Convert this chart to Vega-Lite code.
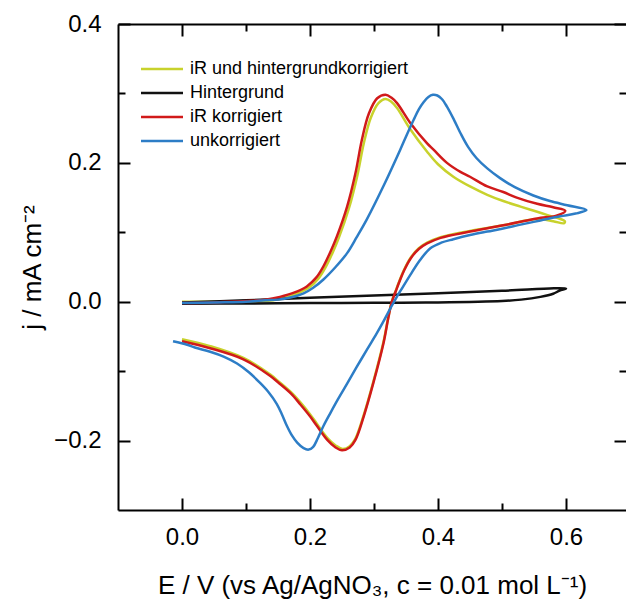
{
  "$schema": "https://vega.github.io/schema/vega-lite/v6.json",
  "autosize": "none",
  "width": 508,
  "height": 486,
  "padding": {"left": 118, "top": 24, "right": 0, "bottom": 90},
  "background": "white",
  "config": {
    "view": {"stroke": null},
    "font": "Liberation Sans",
    "axis": {
      "labelFont": "Liberation Sans", "labelFontSize": 24, "labelColor": "#000",
      "titleFont": "Liberation Sans", "titleFontSize": 26, "titleFontWeight": "normal", "titleColor": "#000",
      "domainColor": "#000", "domainWidth": 2, "tickColor": "#000", "tickWidth": 2,
      "grid": false
    },
    "legend": {
      "orient": "none", "legendX": 32, "legendY": 33,
      "labelFont": "Liberation Sans", "labelFontSize": 18, "labelColor": "#000", "labelLimit": 400,
      "symbolType": "M-2,0H2", "symbolStrokeWidth": 2.5, "symbolSize": 441,
      "labelOffset": 16, "rowPadding": 3, "padding": 0, "title": null
    }
  },
  "data": {"values": [
    {"s": "iR und hintergrundkorrigiert", "i": 1, "E": 0.0, "j": 0.0},
    {"s": "iR und hintergrundkorrigiert", "i": 2, "E": 0.05, "j": 0.0},
    {"s": "iR und hintergrundkorrigiert", "i": 3, "E": 0.1, "j": 0.0},
    {"s": "iR und hintergrundkorrigiert", "i": 4, "E": 0.13, "j": 0.001},
    {"s": "iR und hintergrundkorrigiert", "i": 5, "E": 0.153, "j": 0.004},
    {"s": "iR und hintergrundkorrigiert", "i": 6, "E": 0.175, "j": 0.01},
    {"s": "iR und hintergrundkorrigiert", "i": 7, "E": 0.198, "j": 0.02},
    {"s": "iR und hintergrundkorrigiert", "i": 8, "E": 0.213, "j": 0.033},
    {"s": "iR und hintergrundkorrigiert", "i": 9, "E": 0.224, "j": 0.049},
    {"s": "iR und hintergrundkorrigiert", "i": 10, "E": 0.235, "j": 0.07},
    {"s": "iR und hintergrundkorrigiert", "i": 11, "E": 0.245, "j": 0.092},
    {"s": "iR und hintergrundkorrigiert", "i": 12, "E": 0.261, "j": 0.135},
    {"s": "iR und hintergrundkorrigiert", "i": 13, "E": 0.274, "j": 0.182},
    {"s": "iR und hintergrundkorrigiert", "i": 14, "E": 0.284, "j": 0.228},
    {"s": "iR und hintergrundkorrigiert", "i": 15, "E": 0.295, "j": 0.265},
    {"s": "iR und hintergrundkorrigiert", "i": 16, "E": 0.307, "j": 0.286},
    {"s": "iR und hintergrundkorrigiert", "i": 17, "E": 0.318, "j": 0.292},
    {"s": "iR und hintergrundkorrigiert", "i": 18, "E": 0.327, "j": 0.288},
    {"s": "iR und hintergrundkorrigiert", "i": 19, "E": 0.336, "j": 0.279},
    {"s": "iR und hintergrundkorrigiert", "i": 20, "E": 0.357, "j": 0.248},
    {"s": "iR und hintergrundkorrigiert", "i": 21, "E": 0.383, "j": 0.216},
    {"s": "iR und hintergrundkorrigiert", "i": 22, "E": 0.4, "j": 0.198},
    {"s": "iR und hintergrundkorrigiert", "i": 23, "E": 0.424, "j": 0.18},
    {"s": "iR und hintergrundkorrigiert", "i": 24, "E": 0.45, "j": 0.166},
    {"s": "iR und hintergrundkorrigiert", "i": 25, "E": 0.477, "j": 0.154},
    {"s": "iR und hintergrundkorrigiert", "i": 26, "E": 0.502, "j": 0.145},
    {"s": "iR und hintergrundkorrigiert", "i": 27, "E": 0.529, "j": 0.137},
    {"s": "iR und hintergrundkorrigiert", "i": 28, "E": 0.55, "j": 0.131},
    {"s": "iR und hintergrundkorrigiert", "i": 29, "E": 0.57, "j": 0.125},
    {"s": "iR und hintergrundkorrigiert", "i": 30, "E": 0.598, "j": 0.116},
    {"s": "iR und hintergrundkorrigiert", "i": 31, "E": 0.597, "j": 0.113},
    {"s": "iR und hintergrundkorrigiert", "i": 32, "E": 0.58, "j": 0.116},
    {"s": "iR und hintergrundkorrigiert", "i": 33, "E": 0.555, "j": 0.119},
    {"s": "iR und hintergrundkorrigiert", "i": 34, "E": 0.502, "j": 0.11},
    {"s": "iR und hintergrundkorrigiert", "i": 35, "E": 0.45, "j": 0.102},
    {"s": "iR und hintergrundkorrigiert", "i": 36, "E": 0.404, "j": 0.093},
    {"s": "iR und hintergrundkorrigiert", "i": 37, "E": 0.383, "j": 0.085},
    {"s": "iR und hintergrundkorrigiert", "i": 38, "E": 0.37, "j": 0.077},
    {"s": "iR und hintergrundkorrigiert", "i": 39, "E": 0.357, "j": 0.063},
    {"s": "iR und hintergrundkorrigiert", "i": 40, "E": 0.347, "j": 0.046},
    {"s": "iR und hintergrundkorrigiert", "i": 41, "E": 0.341, "j": 0.033},
    {"s": "iR und hintergrundkorrigiert", "i": 42, "E": 0.334, "j": 0.016},
    {"s": "iR und hintergrundkorrigiert", "i": 43, "E": 0.328, "j": 0.001},
    {"s": "iR und hintergrundkorrigiert", "i": 44, "E": 0.322, "j": -0.024},
    {"s": "iR und hintergrundkorrigiert", "i": 45, "E": 0.315, "j": -0.057},
    {"s": "iR und hintergrundkorrigiert", "i": 46, "E": 0.299, "j": -0.115},
    {"s": "iR und hintergrundkorrigiert", "i": 47, "E": 0.284, "j": -0.163},
    {"s": "iR und hintergrundkorrigiert", "i": 48, "E": 0.271, "j": -0.197},
    {"s": "iR und hintergrundkorrigiert", "i": 49, "E": 0.262, "j": -0.208},
    {"s": "iR und hintergrundkorrigiert", "i": 50, "E": 0.251, "j": -0.212},
    {"s": "iR und hintergrundkorrigiert", "i": 51, "E": 0.24, "j": -0.207},
    {"s": "iR und hintergrundkorrigiert", "i": 52, "E": 0.227, "j": -0.196},
    {"s": "iR und hintergrundkorrigiert", "i": 53, "E": 0.211, "j": -0.176},
    {"s": "iR und hintergrundkorrigiert", "i": 54, "E": 0.2, "j": -0.162},
    {"s": "iR und hintergrundkorrigiert", "i": 55, "E": 0.185, "j": -0.145},
    {"s": "iR und hintergrundkorrigiert", "i": 56, "E": 0.17, "j": -0.13},
    {"s": "iR und hintergrundkorrigiert", "i": 57, "E": 0.15, "j": -0.114},
    {"s": "iR und hintergrundkorrigiert", "i": 58, "E": 0.138, "j": -0.105},
    {"s": "iR und hintergrundkorrigiert", "i": 59, "E": 0.096, "j": -0.081},
    {"s": "iR und hintergrundkorrigiert", "i": 60, "E": 0.044, "j": -0.064},
    {"s": "iR und hintergrundkorrigiert", "i": 61, "E": 0.0, "j": -0.054},

    {"s": "Hintergrund", "i": 1, "E": 0.0, "j": -0.001},
    {"s": "Hintergrund", "i": 2, "E": 0.1, "j": 0.002},
    {"s": "Hintergrund", "i": 3, "E": 0.2, "j": 0.0057},
    {"s": "Hintergrund", "i": 4, "E": 0.3, "j": 0.009},
    {"s": "Hintergrund", "i": 5, "E": 0.4, "j": 0.0123},
    {"s": "Hintergrund", "i": 6, "E": 0.5, "j": 0.0157},
    {"s": "Hintergrund", "i": 7, "E": 0.6, "j": 0.019},
    {"s": "Hintergrund", "i": 8, "E": 0.59, "j": 0.016},
    {"s": "Hintergrund", "i": 9, "E": 0.58, "j": 0.0115},
    {"s": "Hintergrund", "i": 10, "E": 0.56, "j": 0.007},
    {"s": "Hintergrund", "i": 11, "E": 0.53, "j": 0.003},
    {"s": "Hintergrund", "i": 12, "E": 0.5, "j": 0.001},
    {"s": "Hintergrund", "i": 13, "E": 0.4, "j": -0.001},
    {"s": "Hintergrund", "i": 14, "E": 0.3, "j": -0.0015},
    {"s": "Hintergrund", "i": 15, "E": 0.2, "j": -0.002},
    {"s": "Hintergrund", "i": 16, "E": 0.1, "j": -0.0025},
    {"s": "Hintergrund", "i": 17, "E": 0.0, "j": -0.003},

    {"s": "iR korrigiert", "i": 1, "E": 0.0, "j": -0.002},
    {"s": "iR korrigiert", "i": 2, "E": 0.05, "j": -0.001},
    {"s": "iR korrigiert", "i": 3, "E": 0.1, "j": 0.001},
    {"s": "iR korrigiert", "i": 4, "E": 0.13, "j": 0.003},
    {"s": "iR korrigiert", "i": 5, "E": 0.153, "j": 0.007},
    {"s": "iR korrigiert", "i": 6, "E": 0.175, "j": 0.013},
    {"s": "iR korrigiert", "i": 7, "E": 0.195, "j": 0.022},
    {"s": "iR korrigiert", "i": 8, "E": 0.21, "j": 0.035},
    {"s": "iR korrigiert", "i": 9, "E": 0.221, "j": 0.051},
    {"s": "iR korrigiert", "i": 10, "E": 0.232, "j": 0.072},
    {"s": "iR korrigiert", "i": 11, "E": 0.242, "j": 0.094},
    {"s": "iR korrigiert", "i": 12, "E": 0.258, "j": 0.137},
    {"s": "iR korrigiert", "i": 13, "E": 0.271, "j": 0.185},
    {"s": "iR korrigiert", "i": 14, "E": 0.281, "j": 0.233},
    {"s": "iR korrigiert", "i": 15, "E": 0.292, "j": 0.271},
    {"s": "iR korrigiert", "i": 16, "E": 0.305, "j": 0.293},
    {"s": "iR korrigiert", "i": 17, "E": 0.318, "j": 0.298},
    {"s": "iR korrigiert", "i": 18, "E": 0.327, "j": 0.294},
    {"s": "iR korrigiert", "i": 19, "E": 0.336, "j": 0.286},
    {"s": "iR korrigiert", "i": 20, "E": 0.357, "j": 0.257},
    {"s": "iR korrigiert", "i": 21, "E": 0.383, "j": 0.228},
    {"s": "iR korrigiert", "i": 22, "E": 0.393, "j": 0.219},
    {"s": "iR korrigiert", "i": 23, "E": 0.414, "j": 0.2},
    {"s": "iR korrigiert", "i": 24, "E": 0.435, "j": 0.187},
    {"s": "iR korrigiert", "i": 25, "E": 0.45, "j": 0.18},
    {"s": "iR korrigiert", "i": 26, "E": 0.477, "j": 0.166},
    {"s": "iR korrigiert", "i": 27, "E": 0.502, "j": 0.158},
    {"s": "iR korrigiert", "i": 28, "E": 0.523, "j": 0.15},
    {"s": "iR korrigiert", "i": 29, "E": 0.555, "j": 0.141},
    {"s": "iR korrigiert", "i": 30, "E": 0.58, "j": 0.136},
    {"s": "iR korrigiert", "i": 31, "E": 0.599, "j": 0.131},
    {"s": "iR korrigiert", "i": 32, "E": 0.585, "j": 0.124},
    {"s": "iR korrigiert", "i": 33, "E": 0.555, "j": 0.12},
    {"s": "iR korrigiert", "i": 34, "E": 0.502, "j": 0.11},
    {"s": "iR korrigiert", "i": 35, "E": 0.45, "j": 0.101},
    {"s": "iR korrigiert", "i": 36, "E": 0.404, "j": 0.092},
    {"s": "iR korrigiert", "i": 37, "E": 0.383, "j": 0.084},
    {"s": "iR korrigiert", "i": 38, "E": 0.37, "j": 0.076},
    {"s": "iR korrigiert", "i": 39, "E": 0.357, "j": 0.062},
    {"s": "iR korrigiert", "i": 40, "E": 0.347, "j": 0.045},
    {"s": "iR korrigiert", "i": 41, "E": 0.341, "j": 0.032},
    {"s": "iR korrigiert", "i": 42, "E": 0.334, "j": 0.015},
    {"s": "iR korrigiert", "i": 43, "E": 0.328, "j": 0.0},
    {"s": "iR korrigiert", "i": 44, "E": 0.322, "j": -0.025},
    {"s": "iR korrigiert", "i": 45, "E": 0.315, "j": -0.059},
    {"s": "iR korrigiert", "i": 46, "E": 0.299, "j": -0.117},
    {"s": "iR korrigiert", "i": 47, "E": 0.284, "j": -0.165},
    {"s": "iR korrigiert", "i": 48, "E": 0.271, "j": -0.199},
    {"s": "iR korrigiert", "i": 49, "E": 0.262, "j": -0.21},
    {"s": "iR korrigiert", "i": 50, "E": 0.25, "j": -0.214},
    {"s": "iR korrigiert", "i": 51, "E": 0.24, "j": -0.21},
    {"s": "iR korrigiert", "i": 52, "E": 0.227, "j": -0.199},
    {"s": "iR korrigiert", "i": 53, "E": 0.211, "j": -0.179},
    {"s": "iR korrigiert", "i": 54, "E": 0.2, "j": -0.165},
    {"s": "iR korrigiert", "i": 55, "E": 0.185, "j": -0.148},
    {"s": "iR korrigiert", "i": 56, "E": 0.17, "j": -0.132},
    {"s": "iR korrigiert", "i": 57, "E": 0.15, "j": -0.116},
    {"s": "iR korrigiert", "i": 58, "E": 0.138, "j": -0.107},
    {"s": "iR korrigiert", "i": 59, "E": 0.096, "j": -0.083},
    {"s": "iR korrigiert", "i": 60, "E": 0.044, "j": -0.067},
    {"s": "iR korrigiert", "i": 61, "E": 0.0, "j": -0.057},

    {"s": "unkorrigiert", "i": 1, "E": 0.0, "j": -0.002},
    {"s": "unkorrigiert", "i": 2, "E": 0.05, "j": -0.001},
    {"s": "unkorrigiert", "i": 3, "E": 0.1, "j": 0.0},
    {"s": "unkorrigiert", "i": 4, "E": 0.13, "j": 0.002},
    {"s": "unkorrigiert", "i": 5, "E": 0.15, "j": 0.003},
    {"s": "unkorrigiert", "i": 6, "E": 0.169, "j": 0.006},
    {"s": "unkorrigiert", "i": 7, "E": 0.19, "j": 0.012},
    {"s": "unkorrigiert", "i": 8, "E": 0.205, "j": 0.02},
    {"s": "unkorrigiert", "i": 9, "E": 0.221, "j": 0.032},
    {"s": "unkorrigiert", "i": 10, "E": 0.24, "j": 0.05},
    {"s": "unkorrigiert", "i": 11, "E": 0.258, "j": 0.07},
    {"s": "unkorrigiert", "i": 12, "E": 0.273, "j": 0.093},
    {"s": "unkorrigiert", "i": 13, "E": 0.289, "j": 0.119},
    {"s": "unkorrigiert", "i": 14, "E": 0.315, "j": 0.167},
    {"s": "unkorrigiert", "i": 15, "E": 0.341, "j": 0.219},
    {"s": "unkorrigiert", "i": 16, "E": 0.352, "j": 0.242},
    {"s": "unkorrigiert", "i": 17, "E": 0.362, "j": 0.262},
    {"s": "unkorrigiert", "i": 18, "E": 0.37, "j": 0.277},
    {"s": "unkorrigiert", "i": 19, "E": 0.378, "j": 0.288},
    {"s": "unkorrigiert", "i": 20, "E": 0.385, "j": 0.295},
    {"s": "unkorrigiert", "i": 21, "E": 0.392, "j": 0.298},
    {"s": "unkorrigiert", "i": 22, "E": 0.399, "j": 0.297},
    {"s": "unkorrigiert", "i": 23, "E": 0.406, "j": 0.292},
    {"s": "unkorrigiert", "i": 24, "E": 0.414, "j": 0.281},
    {"s": "unkorrigiert", "i": 25, "E": 0.425, "j": 0.262},
    {"s": "unkorrigiert", "i": 26, "E": 0.435, "j": 0.243},
    {"s": "unkorrigiert", "i": 27, "E": 0.447, "j": 0.223},
    {"s": "unkorrigiert", "i": 28, "E": 0.46, "j": 0.207},
    {"s": "unkorrigiert", "i": 29, "E": 0.477, "j": 0.192},
    {"s": "unkorrigiert", "i": 30, "E": 0.497, "j": 0.178},
    {"s": "unkorrigiert", "i": 31, "E": 0.52, "j": 0.165},
    {"s": "unkorrigiert", "i": 32, "E": 0.549, "j": 0.153},
    {"s": "unkorrigiert", "i": 33, "E": 0.575, "j": 0.145},
    {"s": "unkorrigiert", "i": 34, "E": 0.602, "j": 0.139},
    {"s": "unkorrigiert", "i": 35, "E": 0.632, "j": 0.132},
    {"s": "unkorrigiert", "i": 36, "E": 0.615, "j": 0.127},
    {"s": "unkorrigiert", "i": 37, "E": 0.591, "j": 0.123},
    {"s": "unkorrigiert", "i": 38, "E": 0.56, "j": 0.117},
    {"s": "unkorrigiert", "i": 39, "E": 0.529, "j": 0.111},
    {"s": "unkorrigiert", "i": 40, "E": 0.5, "j": 0.105},
    {"s": "unkorrigiert", "i": 41, "E": 0.477, "j": 0.101},
    {"s": "unkorrigiert", "i": 42, "E": 0.45, "j": 0.096},
    {"s": "unkorrigiert", "i": 43, "E": 0.424, "j": 0.09},
    {"s": "unkorrigiert", "i": 44, "E": 0.405, "j": 0.085},
    {"s": "unkorrigiert", "i": 45, "E": 0.388, "j": 0.077},
    {"s": "unkorrigiert", "i": 46, "E": 0.372, "j": 0.06},
    {"s": "unkorrigiert", "i": 47, "E": 0.357, "j": 0.039},
    {"s": "unkorrigiert", "i": 48, "E": 0.345, "j": 0.021},
    {"s": "unkorrigiert", "i": 49, "E": 0.335, "j": 0.006},
    {"s": "unkorrigiert", "i": 50, "E": 0.326, "j": -0.009},
    {"s": "unkorrigiert", "i": 51, "E": 0.315, "j": -0.028},
    {"s": "unkorrigiert", "i": 52, "E": 0.304, "j": -0.046},
    {"s": "unkorrigiert", "i": 53, "E": 0.289, "j": -0.069},
    {"s": "unkorrigiert", "i": 54, "E": 0.273, "j": -0.094},
    {"s": "unkorrigiert", "i": 55, "E": 0.258, "j": -0.118},
    {"s": "unkorrigiert", "i": 56, "E": 0.244, "j": -0.14},
    {"s": "unkorrigiert", "i": 57, "E": 0.232, "j": -0.16},
    {"s": "unkorrigiert", "i": 58, "E": 0.221, "j": -0.179},
    {"s": "unkorrigiert", "i": 59, "E": 0.212, "j": -0.197},
    {"s": "unkorrigiert", "i": 60, "E": 0.205, "j": -0.209},
    {"s": "unkorrigiert", "i": 61, "E": 0.198, "j": -0.213},
    {"s": "unkorrigiert", "i": 62, "E": 0.19, "j": -0.211},
    {"s": "unkorrigiert", "i": 63, "E": 0.18, "j": -0.203},
    {"s": "unkorrigiert", "i": 64, "E": 0.172, "j": -0.193},
    {"s": "unkorrigiert", "i": 65, "E": 0.164, "j": -0.179},
    {"s": "unkorrigiert", "i": 66, "E": 0.156, "j": -0.162},
    {"s": "unkorrigiert", "i": 67, "E": 0.148, "j": -0.147},
    {"s": "unkorrigiert", "i": 68, "E": 0.135, "j": -0.13},
    {"s": "unkorrigiert", "i": 69, "E": 0.122, "j": -0.117},
    {"s": "unkorrigiert", "i": 70, "E": 0.105, "j": -0.102},
    {"s": "unkorrigiert", "i": 71, "E": 0.086, "j": -0.089},
    {"s": "unkorrigiert", "i": 72, "E": 0.065, "j": -0.079},
    {"s": "unkorrigiert", "i": 73, "E": 0.044, "j": -0.072},
    {"s": "unkorrigiert", "i": 74, "E": 0.02, "j": -0.066},
    {"s": "unkorrigiert", "i": 75, "E": 0.008, "j": -0.062},
    {"s": "unkorrigiert", "i": 76, "E": -0.014, "j": -0.057}
  ]},
  "layer": [
    {
      "transform": [{"filter": "datum.s === 'iR und hintergrundkorrigiert'"}],
      "mark": {"type": "line", "strokeWidth": 2.5, "interpolate": "catmull-rom"},
      "encoding": {
        "x": {"field": "E", "type": "quantitative", "scale": {"domain": [-0.1, 0.69375], "nice": false, "zero": false},
              "axis": {"orient": "bottom", "values": [0, 0.2, 0.4, 0.6], "format": ".1f", "tickSize": -12, "labelPadding": 27,
                       "title": "E / V (vs Ag/AgNO₃, c = 0.01 mol L⁻¹)", "titlePadding": 23}},
        "y": {"field": "j", "type": "quantitative", "scale": {"domain": [-0.3, 0.4], "nice": false, "zero": false},
              "axis": {"orient": "left", "values": [-0.2, 0, 0.2, 0.4], "format": ".1f", "tickSize": -12, "labelPadding": 29,
                       "title": "j / mA cm⁻²", "titlePadding": 8}},
        "color": {"field": "s", "type": "nominal",
                  "scale": {"domain": ["iR und hintergrundkorrigiert", "Hintergrund", "iR korrigiert", "unkorrigiert"],
                            "range": ["#c8d22c", "#111111", "#d11a1a", "#2d7dc6"]}},
        "order": {"field": "i", "type": "quantitative"}
      }
    },
    {
      "transform": [{"filter": "datum.s === 'Hintergrund'"}],
      "mark": {"type": "line", "strokeWidth": 2.5, "interpolate": "catmull-rom"},
      "encoding": {
        "x": {"field": "E", "type": "quantitative",
              "axis": {"orient": "top", "values": [0, 0.2, 0.4, 0.6], "tickSize": -12, "labels": false, "title": null}},
        "y": {"field": "j", "type": "quantitative",
              "axis": {"orient": "right", "values": [-0.2, 0, 0.2, 0.4], "tickSize": -12, "labels": false, "title": null, "domain": false}},
        "color": {"field": "s", "type": "nominal"},
        "order": {"field": "i", "type": "quantitative"}
      }
    },
    {
      "transform": [{"filter": "datum.s === 'iR korrigiert'"}],
      "mark": {"type": "line", "strokeWidth": 2.5, "interpolate": "catmull-rom"},
      "encoding": {
        "x": {"field": "E", "type": "quantitative",
              "axis": {"orient": "bottom", "values": [0.1, 0.3, 0.5], "tickSize": -7, "labels": false, "title": null, "domain": false}},
        "y": {"field": "j", "type": "quantitative",
              "axis": {"orient": "left", "values": [-0.1, 0.1, 0.3], "tickSize": -7, "labels": false, "title": null, "domain": false}},
        "color": {"field": "s", "type": "nominal"},
        "order": {"field": "i", "type": "quantitative"}
      }
    },
    {
      "transform": [{"filter": "datum.s === 'unkorrigiert'"}],
      "mark": {"type": "line", "strokeWidth": 2.5, "interpolate": "catmull-rom"},
      "encoding": {
        "x": {"field": "E", "type": "quantitative",
              "axis": {"orient": "top", "values": [0.1, 0.3, 0.5], "tickSize": -7, "labels": false, "title": null, "domain": false}},
        "y": {"field": "j", "type": "quantitative",
              "axis": {"orient": "right", "values": [-0.1, 0.1, 0.3], "tickSize": -7, "labels": false, "title": null, "domain": false}},
        "color": {"field": "s", "type": "nominal"},
        "order": {"field": "i", "type": "quantitative"}
      }
    }
  ],
  "resolve": {"axis": {"x": "independent", "y": "independent"}}
}
